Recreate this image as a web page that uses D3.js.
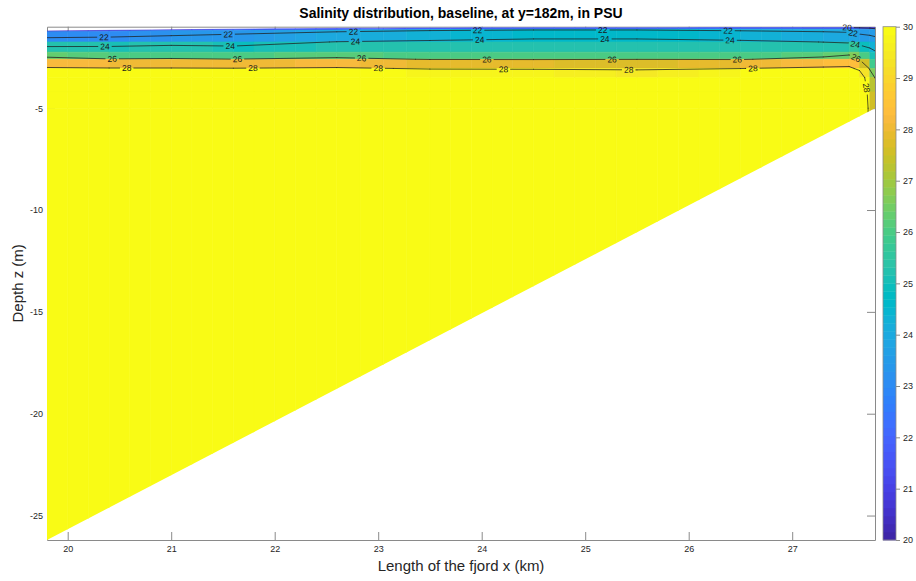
<!DOCTYPE html>
<html>
<head>
<meta charset="utf-8">
<script src="https://cdn.jsdelivr.net/npm/d3@7"></script>
<style>
  body { margin: 0; background: #fff; }
  svg { display: block; }
  text { font-family: "Liberation Sans", Arial, Helvetica, sans-serif; }
</style>
</head>
<body>
<svg id="chart" width="916" height="581"></svg>
<script>
// ---- axis limits and ticks ----
const xDomain = [19.8, 27.8];
const zDomain = [-26.2, -1.0];
const xTicks = [20, 21, 22, 23, 24, 25, 26, 27];
const zTicks = [-25, -20, -15, -10, -5];
const colorLimits = [20, 30];
const colorTicks = [20, 21, 22, 23, 24, 25, 26, 27, 28, 29, 30];

// ---- model grid: stations along the fjord (km) ----
const stationX = [19.8, 20.4, 21.0, 21.6, 22.6, 23.5, 24.5, 25.5, 26.5, 27.3, 27.55, 27.65, 27.75, 27.8];
// free-surface level and first thin layer below it (m)
const surfaceZ = [-1.21, -1.18, -1.15, -1.12, -1.08, -1.06, -1.05, -1.05, -1.04, -1.04, -1.04, -1.04, -1.04, -1.04];
const skinZ    = [-1.25, -1.22, -1.19, -1.17, -1.16, -1.14, -1.13, -1.13, -1.12, -1.12, -1.12, -1.12, -1.12, -1.12];
// deeper grid levels (m), the same at every station
const levelZ = [-1.75, -2.25, -2.6, -3.05, -3.5, -4.2, -5.0, -26.2];

// salinity (PSU) on the grid: one row per level, one column per station
const salinity = [
  [20.4, 20.5, 20.74, 21.1, 21.29, 21.45, 21.5, 21.5, 21.32, 20.6, 19.95, 19.8, 19.6, 19.4],
  [20.6, 20.68, 20.91, 21.29, 21.63, 21.79, 21.86, 21.86, 21.66, 21.5, 21.4, 21.0, 20.6, 20.2],
  [23.02, 23.09, 23.35, 23.36, 24.05, 24.3, 24.68, 24.68, 24.34, 23.98, 23.83, 23.58, 23.5, 23.3],
  [25.2, 25.15, 25.3, 24.96, 25.27, 25.23, 25.26, 25.29, 25.21, 25.3, 25.53, 24.97, 24.34, 24.1],
  [26.33, 26.05, 26.09, 26.02, 26.22, 25.96, 25.94, 25.98, 25.94, 26.34, 26.71, 25.94, 25.0, 24.6],
  [28.2, 28.1, 28.1, 28.05, 28.2, 27.87, 27.83, 27.73, 27.98, 28.3, 28.35, 27.62, 25.87, 25.29],
  [29.9, 29.9, 29.9, 29.9, 29.9, 29.82, 29.74, 29.47, 29.9, 29.9, 29.9, 29.33, 26.71, 25.97],
  [30, 30, 30, 30, 30, 30, 30, 30, 30, 30, 30, 30, 27.3, 26.7],
  [30, 30, 30, 30, 30, 30, 30, 30, 30, 30, 30, 30, 27.6, 26.8],
  [30, 30, 30, 30, 30, 30, 30, 30, 30, 30, 30, 30, 27.6, 26.8]
];

// sloping fjord bed (km, m)
const bedX = [19.8, 27.8];
const bedZ = [-26.2, -5.0];

// isohalines and where their inline labels sit: [level, x (km), z (m)]
const contourLevels = [20, 22, 24, 26, 28];
const contourLabels = [
  [20, 27.53, -1.07],
  [22, 20.35, -1.5], [22, 21.55, -1.37], [22, 22.76, -1.23], [22, 23.96, -1.17], [22, 25.17, -1.16], [22, 26.38, -1.19], [22, 27.59, -1.27],
  [24, 20.36, -1.95], [24, 21.57, -1.93], [24, 22.78, -1.71], [24, 23.98, -1.6], [24, 25.19, -1.6], [24, 26.40, -1.66], [24, 27.61, -1.85],
  [26, 20.43, -2.57], [26, 21.64, -2.6], [26, 22.84, -2.6], [26, 24.05, -2.62], [26, 25.26, -2.6], [26, 26.47, -2.62], [26, 27.62, -2.5],
  [28, 20.57, -3.03], [28, 21.79, -3.04], [28, 23.0, -3.05], [28, 24.21, -3.09], [28, 25.42, -3.12], [28, 26.62, -3.04], [28, 27.72, -4.0]
];

// parula colormap (64 entries)
const parula = [
  [0.2422,0.1504,0.6603],[0.2504,0.1650,0.7076],[0.2578,0.1818,0.7511],[0.2647,0.1978,0.7952],
  [0.2706,0.2147,0.8364],[0.2751,0.2342,0.8710],[0.2783,0.2559,0.8991],[0.2803,0.2782,0.9221],
  [0.2813,0.3006,0.9414],[0.2810,0.3228,0.9579],[0.2795,0.3447,0.9717],[0.2760,0.3667,0.9829],
  [0.2699,0.3892,0.9906],[0.2602,0.4123,0.9952],[0.2440,0.4358,0.9988],[0.2206,0.4603,0.9973],
  [0.1963,0.4847,0.9892],[0.1834,0.5074,0.9798],[0.1786,0.5289,0.9682],[0.1764,0.5499,0.9520],
  [0.1687,0.5703,0.9359],[0.1540,0.5902,0.9218],[0.1460,0.6091,0.9079],[0.1380,0.6276,0.8973],
  [0.1248,0.6459,0.8883],[0.1113,0.6635,0.8763],[0.0952,0.6798,0.8598],[0.0689,0.6948,0.8394],
  [0.0297,0.7082,0.8163],[0.0036,0.7203,0.7917],[0.0067,0.7312,0.7660],[0.0433,0.7411,0.7394],
  [0.0964,0.7500,0.7120],[0.1408,0.7584,0.6842],[0.1717,0.7670,0.6554],[0.1938,0.7758,0.6251],
  [0.2161,0.7843,0.5923],[0.2470,0.7918,0.5567],[0.2906,0.7973,0.5188],[0.3406,0.8008,0.4789],
  [0.3909,0.8029,0.4354],[0.4456,0.8024,0.3909],[0.5044,0.7993,0.3480],[0.5616,0.7942,0.3045],
  [0.6174,0.7876,0.2612],[0.6720,0.7793,0.2227],[0.7242,0.7698,0.1910],[0.7738,0.7598,0.1646],
  [0.8203,0.7498,0.1535],[0.8634,0.7406,0.1596],[0.9035,0.7330,0.1774],[0.9393,0.7288,0.2100],
  [0.9728,0.7298,0.2394],[0.9956,0.7434,0.2371],[0.9970,0.7659,0.2199],[0.9952,0.7893,0.2028],
  [0.9892,0.8136,0.1885],[0.9786,0.8386,0.1766],[0.9676,0.8639,0.1643],[0.9610,0.8890,0.1537],
  [0.9597,0.9135,0.1423],[0.9628,0.9373,0.1265],[0.9691,0.9606,0.1064],[0.9769,0.9839,0.0805]
];
const parulaHex = parula.map(c => d3.rgb(c[0] * 255, c[1] * 255, c[2] * 255).formatHex());

// ---- layout ----
const plot = { left: 47, right: 875, top: 26.7, bottom: 540 };
const bar = { left: 883, right: 896 };
const axisGrey = "#8a8a8a";
const textColor = "#262626";

const svg = d3.select("#chart");
const x = d3.scaleLinear().domain(xDomain).range([plot.left, plot.right]);
const y = d3.scaleLinear().domain(zDomain).range([plot.bottom, plot.top]);
const color = d3.scaleQuantize().domain(colorLimits).range(parulaHex);
const cbar = d3.scaleLinear().domain(colorLimits).range([plot.bottom, plot.top]);

// ---- axes box and ticks (drawn beneath the data) ----
function styleAxis(g) {
  g.attr("font-size", null).attr("font-family", null);
  g.select(".domain").attr("stroke", axisGrey).attr("stroke-width", 1);
  g.selectAll(".tick line").attr("stroke", axisGrey).attr("stroke-width", 1);
  g.selectAll(".tick text").attr("fill", textColor).style("font-size", "9px");
}
const fmt = d => String(d);
svg.append("g").attr("transform", `translate(0,${plot.bottom})`)
  .call(d3.axisBottom(x).tickValues(xTicks).tickFormat(fmt).tickSizeInner(-8).tickSizeOuter(0).tickPadding(6))
  .call(styleAxis);
svg.append("g").attr("transform", `translate(0,${plot.top})`)
  .call(d3.axisTop(x).tickValues(xTicks).tickFormat(() => "").tickSizeInner(-8).tickSizeOuter(0))
  .call(styleAxis);
svg.append("g").attr("transform", `translate(${plot.left},0)`)
  .call(d3.axisLeft(y).tickValues(zTicks).tickFormat(fmt).tickSizeInner(-8).tickSizeOuter(0).tickPadding(4))
  .call(styleAxis);
svg.append("g").attr("transform", `translate(${plot.right},0)`)
  .call(d3.axisRight(y).tickValues(zTicks).tickFormat(() => "").tickSizeInner(-8).tickSizeOuter(0))
  .call(styleAxis);

// ---- grid geometry ----
const depthRows = [surfaceZ, skinZ, ...levelZ.map(z => stationX.map(() => z))];
const nRows = depthRows.length, nSt = stationX.length;
const lerp = (a, b, t) => a + (b - a) * t;

// water column outline: surface of the axes down to the sloping bed
const defs = svg.append("defs");
const fjord = [[bedX[0], zDomain[1]], [bedX[1], zDomain[1]], [bedX[1], bedZ[1]], [bedX[0], bedZ[0]]];
defs.append("clipPath").attr("id", "water")
  .append("path")
  .attr("d", d3.line().x(d => x(d[0])).y(d => y(d[1]))(fjord) + "Z");

// ---- shaded cells: flat shading, each cell takes the value at its deeper vertex ----
const subWidth = 0.2; // km
const cells = [];
for (let k = 0; k < nRows - 1; k++) {
  for (let i = 0; i < nSt - 1; i++) {
    const n = Math.max(1, Math.round((stationX[i + 1] - stationX[i]) / subWidth));
    for (let j = 0; j < n; j++) {
      const t0 = j / n, t1 = (j + 1) / n;
      const xa = lerp(stationX[i], stationX[i + 1], t0), xb = lerp(stationX[i], stationX[i + 1], t1);
      const pts = [
        [xa, lerp(depthRows[k][i], depthRows[k][i + 1], t0)],
        [xb, lerp(depthRows[k][i], depthRows[k][i + 1], t1)],
        [xb, lerp(depthRows[k + 1][i], depthRows[k + 1][i + 1], t1)],
        [xa, lerp(depthRows[k + 1][i], depthRows[k + 1][i + 1], t0)]
      ];
      cells.push({ pts, value: lerp(salinity[k + 1][i], salinity[k + 1][i + 1], t0) });
    }
  }
}

const dataLayer = svg.append("g").attr("clip-path", "url(#water)");
dataLayer.append("g").selectAll("path").data(cells).join("path")
  .attr("d", d => "M" + d.pts.map(p => `${x(p[0])},${y(p[1])}`).join("L") + "Z")
  .attr("fill", d => color(d.value))
  .attr("stroke", d => color(d.value))
  .attr("stroke-width", 0.6);

// ---- isohalines by marching squares on the station/level grid ----
function isoSegments(level) {
  const segs = [];
  for (let k = 0; k < nRows - 1; k++) {
    for (let i = 0; i < nSt - 1; i++) {
      const corners = [[i, k], [i + 1, k], [i + 1, k + 1], [i, k + 1]];
      const v = corners.map(([a, b]) => salinity[b][a]);
      const p = corners.map(([a, b]) => [x(stationX[a]), y(depthRows[b][a])]);
      const hits = [];
      for (let e = 0; e < 4; e++) {
        const a = e, b = (e + 1) % 4;
        if ((v[a] < level) !== (v[b] < level)) {
          const t = (level - v[a]) / (v[b] - v[a]);
          hits.push([lerp(p[a][0], p[b][0], t), lerp(p[a][1], p[b][1], t)]);
        }
      }
      if (hits.length === 2) segs.push(hits);
      else if (hits.length === 4) {
        const centre = d3.mean(v);
        if ((v[0] < level) === (centre < level)) { segs.push([hits[0], hits[1]], [hits[2], hits[3]]); }
        else { segs.push([hits[3], hits[0]], [hits[1], hits[2]]); }
      }
    }
  }
  return segs;
}
const isolines = contourLevels.map(level => ({ level, segs: isoSegments(level) }));

// place each label on the nearest point of its isohaline
const labelData = contourLabels.map(([level, lx, lz]) => {
  const px = x(lx), py = y(lz);
  const segs = isolines.find(d => d.level === level).segs;
  let best = null;
  segs.forEach(([a, b]) => {
    const dx = b[0] - a[0], dy = b[1] - a[1];
    const len2 = dx * dx + dy * dy || 1e-9;
    const t = Math.max(0, Math.min(1, ((px - a[0]) * dx + (py - a[1]) * dy) / len2));
    const qx = a[0] + t * dx, qy = a[1] + t * dy;
    const dist = (qx - px) ** 2 + (qy - py) ** 2;
    if (!best || dist < best.dist) {
      let ang = Math.atan2(dy, dx) * 180 / Math.PI;
      if (ang > 90) ang -= 180;
      if (ang <= -90) ang += 180;
      best = { dist, x: qx, y: qy, angle: ang };
    }
  });
  return { level, ...best };
});

// labels are drawn first so their widths can cut gaps into the lines
const labelLayer = svg.append("g");
const labelText = labelLayer.selectAll("text").data(labelData).join("text")
  .attr("transform", d => `translate(${d.x},${d.y}) rotate(${d.angle})`)
  .attr("text-anchor", "middle")
  .attr("dy", "0.35em")
  .attr("fill", "#1a1a1a")
  .style("font-size", "8.5px")
  .text(d => d.level);
labelText.each(function (d) { d.w = this.getComputedTextLength(); });

const mask = defs.append("mask").attr("id", "labelGaps")
  .attr("maskUnits", "userSpaceOnUse").attr("x", 0).attr("y", 0).attr("width", 916).attr("height", 581);
mask.append("rect").attr("width", 916).attr("height", 581).attr("fill", "#fff");
mask.selectAll("rect.gap").data(labelData).join("rect").attr("class", "gap")
  .attr("transform", d => `translate(${d.x},${d.y}) rotate(${d.angle})`)
  .attr("x", d => -d.w / 2 - 2).attr("y", -4).attr("width", d => d.w + 4).attr("height", 8)
  .attr("fill", "#000");

dataLayer.append("g").attr("mask", "url(#labelGaps)")
  .selectAll("path").data(isolines).join("path")
  .attr("d", d => d.segs.map(([a, b]) => `M${a[0]},${a[1]}L${b[0]},${b[1]}`).join(""))
  .attr("fill", "none")
  .attr("stroke", "#1f1f1f")
  .attr("stroke-width", 0.75)
  .attr("stroke-linecap", "round");

labelLayer.raise();

// ---- colorbar ----
const cbarG = svg.append("g");
cbarG.selectAll("rect").data(parulaHex).join("rect")
  .attr("x", bar.left)
  .attr("width", bar.right - bar.left)
  .attr("y", (c, i) => cbar(colorLimits[0] + (colorLimits[1] - colorLimits[0]) * (i + 1) / parulaHex.length))
  .attr("height", (c, i) => cbar(colorLimits[0] + (colorLimits[1] - colorLimits[0]) * i / parulaHex.length)
                            - cbar(colorLimits[0] + (colorLimits[1] - colorLimits[0]) * (i + 1) / parulaHex.length) + 0.4)
  .attr("fill", c => c);
cbarG.append("rect")
  .attr("x", bar.left).attr("y", plot.top)
  .attr("width", bar.right - bar.left).attr("height", plot.bottom - plot.top)
  .attr("fill", "none").attr("stroke", axisGrey).attr("stroke-width", 0.8);
svg.append("g").attr("transform", `translate(${bar.right},0)`)
  .call(d3.axisRight(cbar).tickValues(colorTicks).tickFormat(fmt).tickSize(4).tickPadding(3))
  .call(styleAxis)
  .call(g => g.select(".domain").remove());

// ---- titles ----
svg.append("text")
  .attr("x", (plot.left + plot.right) / 2).attr("y", 18)
  .attr("text-anchor", "middle").attr("fill", "#000")
  .style("font-size", "14px").style("font-weight", "bold")
  .text("Salinity distribution, baseline, at y=182m, in PSU");
svg.append("text")
  .attr("x", (plot.left + plot.right) / 2).attr("y", 571)
  .attr("text-anchor", "middle").attr("fill", textColor)
  .style("font-size", "15px")
  .text("Length of the fjord x (km)");
svg.append("text")
  .attr("transform", `translate(23,${(plot.top + plot.bottom) / 2}) rotate(-90)`)
  .attr("text-anchor", "middle").attr("fill", textColor)
  .style("font-size", "15px")
  .text("Depth z (m)");
</script>
</body>
</html>
